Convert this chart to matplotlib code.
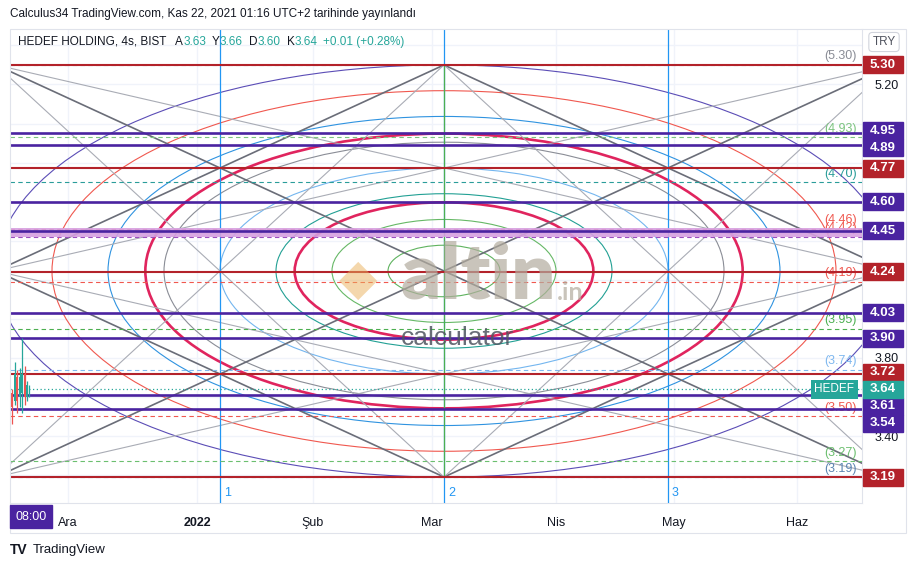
import numpy as np
import matplotlib.pyplot as plt
from matplotlib.patches import Ellipse, Rectangle
import matplotlib.transforms as mtransforms

plt.rcParams['font.family'] = ['Liberation Sans', 'DejaVu Sans']

# ---- data (x = 4h bar index, y = price TRY) ----
box_x = (-6.4, 352.0)
box_price = (3.19, 5.30)

arc_ratios = [1, 0.875, 0.75, 2 / 3, 0.625, 0.5, 0.375, 1 / 3, 0.25, 0.125]
arc_colors = ['#5b4db6', '#f0584f', '#2f93e0', '#e0245e', '#8a8d96',
              '#74b6ef', '#22a094', '#e0245e', '#66b866', '#5fb35f']
arc_lw = [0.8, 0.8, 0.8, 1.9, 0.8, 0.8, 0.8, 1.9, 0.8, 0.8]

# gann fan lines, as box fractions ((x0, y0), (x1, y1), dark?)
fan_lines = [((0, 1), (1, 0), True), ((0, 0), (1, 1), True),
             ((0.5, 1), (0, 0.5), True), ((0.5, 1), (1, 0.5), True),
             ((0.5, 0), (0, 0.5), True), ((0.5, 0), (1, 0.5), True),
             ((0, 1), (0.5, 0), False), ((0, 1), (1, 0.5), False),
             ((1, 1), (0.5, 0), False), ((1, 1), (0, 0.5), False),
             ((0, 0), (0.5, 1), False), ((0, 0), (1, 0.5), False),
             ((1, 0), (0.5, 1), False), ((1, 0), (0, 0.5), False)]

solid_levels = [5.30, 4.95, 4.89, 4.77, 4.60, 4.45, 4.24, 4.03, 3.90, 3.72, 3.61, 3.54, 3.19]
solid_kind = ['r', 'p', 'p', 'r', 'p', 'p', 'r', 'p', 'p', 'r', 'p', 'p', 'r']

dashed_levels = [5.30, 4.93, 4.70, 4.46, 4.42, 4.19, 3.95, 3.74, 3.50, 3.27, 3.19]
dashed_colors = ['#8a8d96', '#7cc47f', '#2a9d9a', '#f0584f', '#9c4fc0', '#f0584f',
                 '#4caf50', '#7fb8ef', '#f0584f', '#6cbf6f', '#5b84b1']
dashed_text_colors = ['#8a8d96', '#7cc47f', '#2a9d9a', '#f0584f', '#f0584f', '#f0584f',
                      '#4caf50', '#7fb8ef', '#f0584f', '#6cbf6f', '#5b84b1']

band = (4.42, 4.465)
last_price = 3.64

candle_x = [0, 1, 2, 3, 4, 5, 6, 7]
candle_open = [3.62, 3.58, 3.70, 3.60, 3.62, 3.72, 3.60, 3.63]
candle_high = [3.64, 3.78, 3.74, 3.75, 3.90, 3.76, 3.68, 3.66]
candle_low = [3.46, 3.56, 3.52, 3.55, 3.52, 3.56, 3.58, 3.60]
candle_close = [3.55, 3.72, 3.58, 3.70, 3.72, 3.60, 3.66, 3.64]

month_pos = [22.4, 74.0, 120.4, 168.0, 217.6, 264.8, 314.0]
month_labels = ['Ara', '2022', 'Şub', 'Mar', 'Nis', 'May', 'Haz']

red = '#b3222a'
purple = '#4a23a0'
teal = '#26a69a'
dark = '#131722'

W, H = 916, 568
fig = plt.figure(figsize=(W / 100, H / 100), dpi=100)
pane_l, pane_r, pane_t, pane_b = 10, 862, 29, 503
ax = fig.add_axes([pane_l / W, 1 - pane_b / H, (pane_r - pane_l) / W, (pane_b - pane_t) / H])
ax.set_xlim(-0.8, 340)
ax.set_ylim(3.057, 5.484)
px_per_price = (pane_b - pane_t) / (5.484 - 3.057)

# grid
yt = np.round(np.arange(3.2, 5.41, 0.2), 2)
ax.set_yticks(yt)
ax.set_yticklabels(['%.2f' % v for v in yt])
ax.set_xticks(month_pos)
ax.set_xticklabels(month_labels)
ax.grid(color='#f0f3fa', linewidth=1)
ax.set_axisbelow(True)
ax.yaxis.tick_right()
ax.tick_params(axis='y', length=0, pad=9, labelsize=9, labelcolor=dark)
ax.tick_params(axis='x', length=0, pad=10, labelsize=9, labelcolor=dark)
for lab in ax.get_xticklabels():
    if lab.get_text() == '2022':
        lab.set_fontweight('bold')
for s in ['top', 'left']:
    ax.spines[s].set_visible(False)
for s in ['right', 'bottom']:
    ax.spines[s].set_color('#e0e3eb')

bx0, bx1 = box_x
by0, by1 = box_price
cx, cy = (bx0 + bx1) / 2, (by0 + by1) / 2

# gann circles
for r, c, lw in zip(arc_ratios, arc_colors, arc_lw):
    ax.add_patch(Ellipse((cx, cy), (bx1 - bx0) * r, (by1 - by0) * r, fill=False,
                         edgecolor=c, linewidth=lw, zorder=3))

# fan lines
for (fx0, fy0), (fx1, fy1), is_dark in fan_lines:
    ax.plot([bx0 + fx0 * (bx1 - bx0), bx0 + fx1 * (bx1 - bx0)],
            [by0 + fy0 * (by1 - by0), by0 + fy1 * (by1 - by0)],
            color='#6a6d78' if is_dark else '#a9acb5', linewidth=1.2 if is_dark else 0.8, zorder=3)

# vertical time lines 1,2,3 and middle line
for i, f in enumerate([0.25, 0.5, 0.75]):
    xv = bx0 + f * (bx1 - bx0)
    ax.axvline(xv, color='#2196f3', linewidth=0.9, zorder=3)
    ax.text(xv + 1.6, 3.108, str(i + 1), color='#2196f3', fontsize=9, va='center', zorder=6)
ax.plot([cx, cx], [by0, by1], color='#4caf50', linewidth=0.9, zorder=3)

# band
ax.axhspan(band[0], band[1], color='#d6a0e0', alpha=0.9, zorder=4, linewidth=0)

# dashed levels
for p, c, tc in zip(dashed_levels, dashed_colors, dashed_text_colors):
    ax.axhline(p, color=c, linewidth=0.8, linestyle=(0, (4, 3)), zorder=3)
    ax.text(0.994, p + 2.5 / px_per_price, '(%.2f)' % p, transform=ax.get_yaxis_transform(),
            ha='right', va='bottom', color=tc, fontsize=9, zorder=3.5)

# solid levels
for p, k in zip(solid_levels, solid_kind):
    ax.axhline(p, color=red if k == 'r' else purple, linewidth=1.5 if k == 'r' else 1.9, zorder=5)

# current price
ax.axhline(last_price, color=teal, linewidth=0.9, linestyle=(0, (1, 2)), zorder=5)

# candles
for x, o, h, l, c in zip(candle_x, candle_open, candle_high, candle_low, candle_close):
    col = teal if c >= o else '#ef5350'
    ax.vlines(x, l, h, color=col, linewidth=0.9, zorder=6)
    ax.bar(x, abs(c - o), bottom=min(o, c), width=0.55, color=col, zorder=6)

# price labels on the axis, stacked so they don't overlap
lab_prices = solid_levels + [last_price]
lab_colors = [red if k == 'r' else purple for k in solid_kind] + [teal]
fixed = {len(lab_prices) - 1}
gap = 17 / px_per_price
pos = list(lab_prices)
order = list(np.argsort(pos)[::-1])
for _ in range(200):
    moved = False
    for a, b in zip(order[:-1], order[1:]):
        d = pos[a] - pos[b]
        if d < gap - 1e-9:
            need = gap - d
            if a in fixed:
                pos[b] -= need
            elif b in fixed:
                pos[a] += need
            else:
                pos[a] += need / 2
                pos[b] -= need / 2
            moved = True
    if not moved:
        break

# tick labels hidden behind the boxes
for v, lab in zip(yt, ax.get_yticklabels()):
    if v > 5.35 or min(abs(v - lp) for lp in pos) < 0.62 * gap:
        lab.set_visible(False)

blend = mtransforms.blended_transform_factory(ax.transAxes, ax.transData)
bw = 40 / (pane_r - pane_l)
for p, lp, c in zip(lab_prices, pos, lab_colors):
    ax.add_patch(Rectangle((1.001, lp - gap / 2), bw, gap, transform=blend, color=c,
                           clip_on=False, zorder=10))
    ax.text(1.001 + bw / 2, lp, '%.2f' % p, transform=blend, ha='center', va='center',
            color='white', fontsize=9.5, fontweight='bold', clip_on=False, zorder=11)

ax.text(0.991, last_price, 'HEDEF', transform=blend, ha='right', va='center', color='white',
        fontsize=8.5, zorder=11, bbox=dict(boxstyle='square,pad=0.3', fc=teal, ec='none'))

# watermark
fig.text(478 / W, 1 - 276 / H, 'altin', ha='center', va='center', fontsize=56,
         fontweight='heavy', color='#b3ac9e', alpha=0.7, family='Lato', zorder=20)
fig.text(570 / W, 1 - 292 / H, '.in', ha='center', va='center', fontsize=18,
         fontweight='bold', color='#b3ac9e', alpha=0.7, family='Lato', zorder=20)
fig.text(358 / W, 1 - 280 / H, '◆', ha='center', va='center', fontsize=36,
         color='#eab05a', alpha=0.5, family='DejaVu Sans', zorder=20)
fig.text(457 / W, 1 - 338 / H, 'calculator', ha='center', va='center', fontsize=19,
         color='#4f5560', alpha=0.85, zorder=20)

# header / legend / footer
fig.text(10 / W, 1 - 14 / H, 'Calculus34 TradingView.com, Kas 22, 2021 01:16 UTC+2 tarihinde yayınlandı',
         fontsize=8.5, color=dark, va='center')
renderer = fig.canvas.get_renderer()
x0 = 18
parts = [('HEDEF HOLDING, 4s, BIST', dark, 9), ('A', dark, 0), ('3.63', teal, 6), ('Y', dark, 0),
         ('3.66', teal, 6), ('D', dark, 0), ('3.60', teal, 6), ('K', dark, 0), ('3.64', teal, 6),
         ('+0.01 (+0.28%)', teal, 0)]
for s, c, g in parts:
    t = fig.text(x0 / W, 1 - 42 / H, s, fontsize=8.5, color=c, va='center', zorder=12)
    bb = t.get_window_extent(renderer)
    x0 = bb.x1 + g

fig.text(884 / W, 1 - 42 / H, 'TRY', fontsize=8.5, color='#50535e', ha='center', va='center',
         bbox=dict(boxstyle='round,pad=0.3', fc='white', ec='#d1d4dc', lw=0.8), zorder=12)

# time axis corner label
fig.patches.append(Rectangle((10 / W, 1 - 528 / H), 42 / W, 23 / H, transform=fig.transFigure,
                             color=purple, zorder=5))
fig.text(31 / W, 1 - 517 / H, '08:00', color='white', fontsize=9, ha='center', va='center', zorder=6)

# outer frame
fig.patches.append(Rectangle((10 / W, 1 - 533 / H), 896 / W, 504 / H, transform=fig.transFigure,
                             fill=False, ec='#e0e3eb', lw=0.8))

fig.text(10 / W, 1 - 550 / H, 'TV', fontsize=10, fontweight='bold', color=dark, va='center')
fig.text(33 / W, 1 - 550 / H, 'TradingView', fontsize=9.5, color=dark, va='center')

plt.savefig('out.png', dpi=100)
